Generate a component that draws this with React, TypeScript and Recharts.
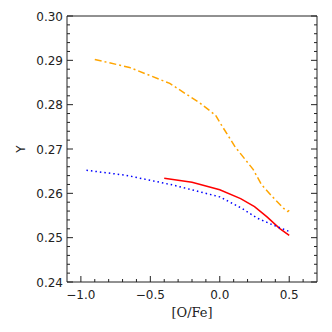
import React from 'react';
import { LineChart, Line, XAxis, YAxis } from 'recharts';

// [O/Fe] vs Y for three models
const orangeX = [-0.9, -0.65, -0.36, -0.14, -0.03, 0.0, 0.11, 0.24, 0.3, 0.38, 0.46, 0.49, 0.5];
const orangeY = [0.2902, 0.2884, 0.2848, 0.2803, 0.2776, 0.276, 0.2705, 0.2654, 0.262, 0.2592, 0.2566, 0.2559, 0.2562];

const redX = [-0.4, -0.2, 0.0, 0.15, 0.25, 0.34, 0.43, 0.5];
const redY = [0.2634, 0.2625, 0.2608, 0.2588, 0.257, 0.2547, 0.2521, 0.2505];

const blueX = [-0.96, -0.68, -0.34, 0.0, 0.16, 0.27, 0.38, 0.5];
const blueY = [0.2652, 0.2641, 0.2619, 0.2592, 0.2566, 0.2544, 0.2529, 0.2514];

const xMajor = [-1.0, -0.5, 0.0, 0.5];
const yMajor = [0.24, 0.25, 0.26, 0.27, 0.28, 0.29, 0.3];

// minor ticks every 0.1 in x, every 0.002 in y
const xTicks = Array.from({ length: 17 }, (_, i) => +(-1.0 + i * 0.1).toFixed(1));
const yTicks = Array.from({ length: 31 }, (_, i) => +(0.24 + i * 0.002).toFixed(3));

const toPts = (xs: number[], ys: number[]) => xs.map((x, i) => ({ x, y: ys[i] }));
const orange = toPts(orangeX, orangeY);
const red = toPts(redX, redY);
const blue = toPts(blueX, blueY);

const isMajorX = (v: number) => xMajor.some((m) => Math.abs(m - v) < 1e-6);
const isMajorY = (v: number) => yMajor.some((m) => Math.abs(m - v) < 1e-6);

const INK = '#222';
const TICK_FONT = '"DejaVu Sans", sans-serif';

const fmtX = (v: number) => (v < 0 ? '\u2212' + Math.abs(v).toFixed(1) : v.toFixed(1));

const BottomTick = ({ x, y, payload }: any) => {
  const major = isMajorX(payload.value);
  return (
    <g>
      <line x1={x} x2={x} y1={y} y2={y - (major ? 6 : 3)} stroke={INK} />
      {major && (
        <text x={x} y={y + 17} textAnchor="middle" fontSize={12} fontFamily={TICK_FONT} fill={INK}>
          {fmtX(payload.value)}
        </text>
      )}
    </g>
  );
};

const TopTick = ({ x, y, payload }: any) => {
  const major = isMajorX(payload.value);
  return <line x1={x} x2={x} y1={y} y2={y + (major ? 6 : 3)} stroke={INK} />;
};

const LeftTick = ({ x, y, payload }: any) => {
  const major = isMajorY(payload.value);
  return (
    <g>
      <line x1={x} x2={x + (major ? 6 : 3)} y1={y} y2={y} stroke={INK} />
      {major && (
        <text x={x - 4} y={y + 4.5} textAnchor="end" fontSize={12} fontFamily={TICK_FONT} fill={INK}>
          {payload.value.toFixed(2)}
        </text>
      )}
    </g>
  );
};

const RightTick = ({ x, y, payload }: any) => {
  const major = isMajorY(payload.value);
  return <line x1={x} x2={x - (major ? 6 : 3)} y1={y} y2={y} stroke={INK} />;
};

export default function App() {
  return (
    <div style={{ position: 'absolute', left: 0, top: 0, background: '#fff' }}>
      <LineChart width={332} height={332} margin={{ top: 15, right: 14, bottom: 0, left: 0 }}>
        <XAxis
          xAxisId="b"
          type="number"
          dataKey="x"
          domain={[-1.1, 0.7]}
          allowDataOverflow
          ticks={xTicks}
          interval={0}
          tickSize={0}
          tickMargin={0}
          tickLine={false}
          tick={<BottomTick />}
          height={50}
          axisLine={{ stroke: INK }}
          label={{
            value: '[O/Fe]',
            position: 'insideBottom',
            offset: 15,
            fontSize: 13,
            fontFamily: '"DejaVu Serif", serif',
            fill: INK,
          }}
        />
        <XAxis
          xAxisId="t"
          orientation="top"
          type="number"
          domain={[-1.1, 0.7]}
          allowDataOverflow
          ticks={xTicks}
          interval={0}
          tickSize={0}
          tickMargin={0}
          tickLine={false}
          tick={<TopTick />}
          height={1}
          axisLine={{ stroke: INK }}
        />
        <YAxis
          yAxisId="l"
          type="number"
          domain={[0.24, 0.3]}
          allowDataOverflow
          ticks={yTicks}
          interval={0}
          tickSize={0}
          tickMargin={0}
          tickLine={false}
          tick={<LeftTick />}
          width={67}
          axisLine={{ stroke: INK }}
          label={{
            position: 'insideLeft',
            content: ({ viewBox }: any) => (
              <text
                x={21}
                y={viewBox.y + viewBox.height / 2}
                transform={`rotate(-90 21 ${viewBox.y + viewBox.height / 2})`}
                textAnchor="middle"
                dominantBaseline="central"
                fontSize={12}
                fontFamily={TICK_FONT}
                fill={INK}
              >
                Y
              </text>
            ),
          }}
        />
        <YAxis
          yAxisId="r"
          orientation="right"
          type="number"
          domain={[0.24, 0.3]}
          allowDataOverflow
          ticks={yTicks}
          interval={0}
          tickSize={0}
          tickMargin={0}
          tickLine={false}
          tick={<RightTick />}
          width={1}
          axisLine={{ stroke: INK }}
        />
        <Line
          xAxisId="b"
          yAxisId="l"
          data={orange}
          dataKey="y"
          type="linear"
          stroke="#FFA500"
          strokeWidth={1.5}
          strokeDasharray="7 3 2 3"
          dot={false}
          isAnimationActive={false}
        />
        <Line
          xAxisId="b"
          yAxisId="l"
          data={red}
          dataKey="y"
          type="linear"
          stroke="#FF0000"
          strokeWidth={1.5}
          dot={false}
          isAnimationActive={false}
        />
        <Line
          xAxisId="b"
          yAxisId="l"
          data={blue}
          dataKey="y"
          type="linear"
          stroke="#0000FF"
          strokeWidth={1.5}
          strokeDasharray="1.5 3"
          dot={false}
          isAnimationActive={false}
        />
      </LineChart>
    </div>
  );
}
